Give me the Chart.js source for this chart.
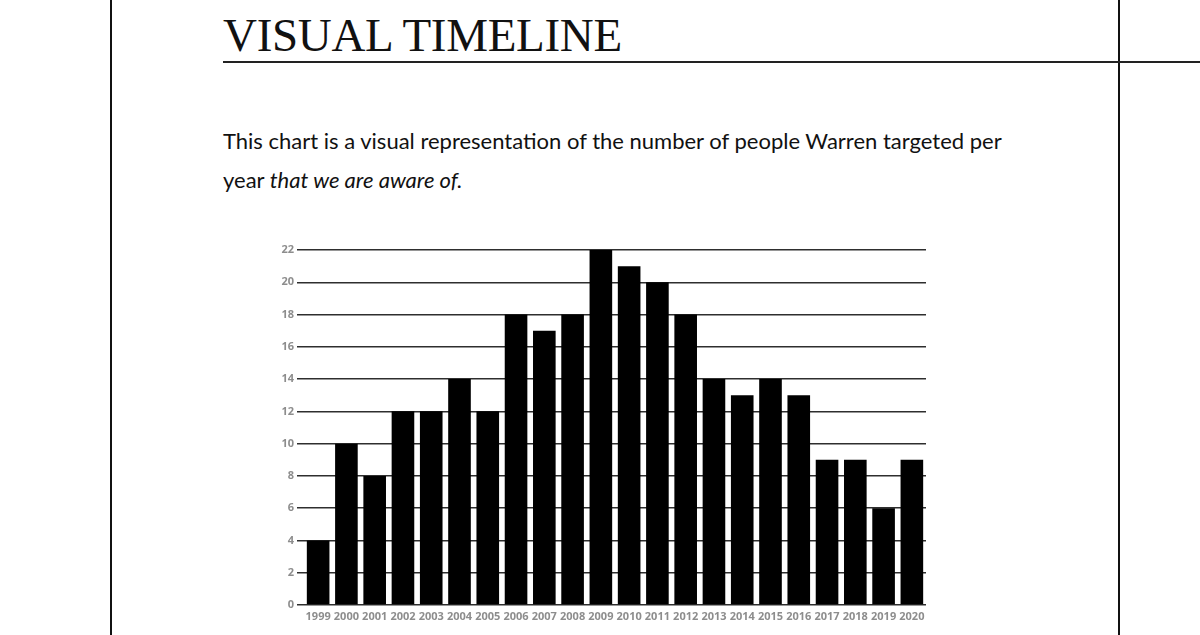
<!DOCTYPE html>
<html>
<head>
<meta charset="utf-8">
<title>Visual Timeline</title>
<script src="https://cdn.jsdelivr.net/npm/chart.js@4"></script>
<style>
    html, body { margin: 0; padding: 0; background: #fff; }
    body { width: 1200px; height: 635px; position: relative; overflow: hidden; }
    .rule-left { position: absolute; left: 110px; top: 0; width: 2px; height: 635px; background: #111; }
    .rule-right { position: absolute; left: 1118px; top: 0; width: 2px; height: 635px; background: #111; }
    h1 {
        position: absolute; left: 223px; top: 7px; margin: 0;
        font-family: "Liberation Serif", "DejaVu Serif", serif;
        font-weight: normal; font-size: 47px; line-height: 56px; color: #111;
        letter-spacing: -0.3px;
    }
    .title-rule { position: absolute; left: 223px; top: 61px; width: 977px; height: 2px; background: #222; }
    p.intro {
        position: absolute; left: 223px; top: 121px; margin: 0; width: 900px;
        font-family: Lato, "Open Sans", sans-serif; font-size: 22px; line-height: 39px; color: #111;
    }
    .chart-box { position: absolute; left: 260px; top: 240px; width: 680px; height: 395px; }
</style>
</head>
<body>
<div class="rule-left"></div>
<div class="rule-right"></div>
<h1>VISUAL TIMELINE</h1>
<div class="title-rule"></div>
<p class="intro">This chart is a visual representation of the number of people Warren targeted per<br>year <em>that we are aware of.</em></p>
<div class="chart-box"><canvas id="timelineChart"></canvas></div>

<script>
// People targeted per year
const years = ['1999', '2000', '2001', '2002', '2003', '2004', '2005', '2006', '2007', '2008', '2009',
               '2010', '2011', '2012', '2013', '2014', '2015', '2016', '2017', '2018', '2019', '2020'];
const targeted = [4, 10, 8, 12, 12, 14, 12, 18, 17, 18, 22, 21, 20, 18, 14, 13, 14, 13, 9, 9, 6, 9];
const yTicks = [0, 2, 4, 6, 8, 10, 12, 14, 16, 18, 20, 22];

const labelFont = { family: "'Open Sans', sans-serif", size: 11, weight: 'bold' };
const labelColor = '#8d8d8d';

const ctxTimeline = document.getElementById('timelineChart').getContext('2d');
const timelineChart = new Chart(ctxTimeline, {
    type: 'bar',
    data: {
        labels: years,
        datasets: [{
            label: 'People targeted',
            data: targeted,
            backgroundColor: '#000',
            borderWidth: 0,
            barPercentage: 0.8,
            categoryPercentage: 1.0
        }]
    },
    options: {
        responsive: true,
        maintainAspectRatio: false,
        animation: false,
        layout: { padding: { top: 10, right: 14, left: 0, bottom: 0 } },
        plugins: {
            legend: { display: false },
            tooltip: { enabled: false }
        },
        scales: {
            x: {
                grid: { display: false, drawTicks: false },
                border: { display: false },
                ticks: {
                    font: labelFont,
                    color: labelColor,
                    padding: 5,
                    autoSkip: false,
                    maxRotation: 0
                },
                afterFit: function(scale) { scale.height = 30; }
            },
            y: {
                min: 0,
                max: 22,
                afterBuildTicks: function(scale) {
                    scale.ticks = yTicks.map(v => ({ value: v }));
                },
                grid: {
                    color: '#2e2e2e',
                    lineWidth: 1.5,
                    tickLength: 7,
                    drawTicks: true
                },
                border: { display: false },
                ticks: {
                    font: labelFont,
                    color: labelColor,
                    padding: 3
                },
                afterFit: function(scale) { scale.width = 44; }
            }
        }
    }
});
</script>
</body>
</html>
